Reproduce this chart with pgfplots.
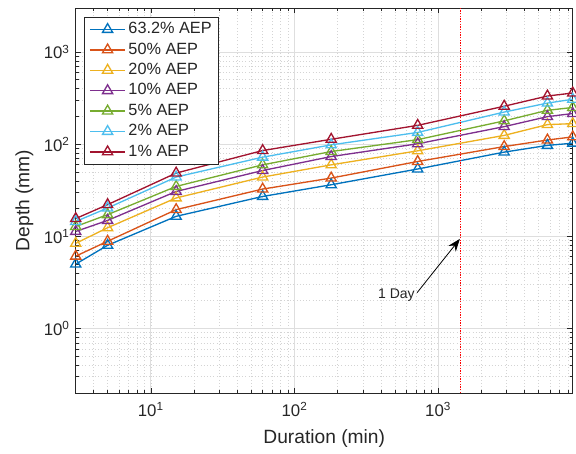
\documentclass[border=0pt]{standalone}
\usepackage{pgfplots}
\pgfplotsset{compat=1.18}
\usepackage{fontspec}
\setmainfont{Liberation Sans}
\usetikzlibrary{arrows.meta}
\definecolor{mblue}{rgb}{0,0.447,0.741}
\definecolor{morange}{rgb}{0.85,0.325,0.098}
\definecolor{myellow}{rgb}{0.929,0.694,0.125}
\definecolor{mpurple}{rgb}{0.494,0.184,0.556}
\definecolor{mgreen}{rgb}{0.466,0.674,0.188}
\definecolor{mcyan}{rgb}{0.301,0.745,0.933}
\definecolor{mred}{rgb}{0.635,0.078,0.184}
\definecolor{axgray}{rgb}{0.15,0.15,0.15}
\begin{document}
\begin{tikzpicture}
\path[use as bounding box] (-56.8pt,-45.75pt) rectangle (375.2pt,294.75pt);
\begin{axis}[
  at={(0,0)}, anchor=south west,
  scale only axis, width=372.75pt, height=288.75pt,
  xmode=log, ymode=log,
  xmin=3, xmax=8640, ymin=0.2, ymax=3000,
  /pgf/number format/assume math mode=true,
  log number format basis/.code 2 args={#1\textsuperscript{\pgfmathprintnumber{#2}}},
  xtick pos=both, ytick pos=both, tick align=inside,
  major tick length=4pt, minor tick length=2.2pt,
  grid=both,
  major grid style={black!13, line width=0.6pt},
  minor grid style={black!17, dotted, line width=0.5pt},
  axis line style={axgray, line width=0.6pt},
  every tick/.style={axgray, line width=0.5pt},
  tick label style={font=\fontsize{12.6}{14}\selectfont, text=axgray},
  xticklabel style={yshift=-3.5pt},
  yticklabel style={xshift=-1pt},
  label style={font=\fontsize{14.4}{16}\selectfont, text=axgray},
  xlabel={Duration (min)},
  xlabel style={yshift=-3pt},
  ylabel={Depth (mm)},
  ylabel style={yshift=1pt},
  every axis plot/.append style={line width=1pt, mark=triangle, mark size=4.4pt, mark options={solid}},
  legend cell align=left,
  legend style={at={(0.0167,0.977)}, anchor=north west, draw=axgray, line width=0.6pt, fill=white,
    font=\fontsize{12.2}{14}\selectfont, text=axgray, inner xsep=3.5pt, inner ysep=1.5pt,
    nodes={inner sep=1.8pt, text height=9pt, text depth=2.7pt}},
  legend image code/.code={\draw[mark repeat=2, mark phase=2] plot coordinates {(0cm,0cm) (0.47cm,0cm) (0.94cm,0cm)};},
]
\addplot[mblue] coordinates {(3,5.0) (5,8.0) (15,16.5) (60,27.1) (180,36.3) (720,53.8) (2880,82) (5760,97) (8640,102.5)};
\addlegendentry{63.2\% AEP}
\addplot[morange] coordinates {(3,6.1) (5,8.85) (15,19.5) (60,32.6) (180,42.9) (720,64.9) (2880,94.2) (5760,111) (8640,120)};
\addlegendentry{50\% AEP}
\addplot[myellow] coordinates {(3,8.4) (5,12.4) (15,26.1) (60,44) (180,59.7) (720,84.7) (2880,124.5) (5760,163) (8640,167)};
\addlegendentry{20\% AEP}
\addplot[mpurple] coordinates {(3,11.3) (5,14.9) (15,30.7) (60,51.8) (180,73.4) (720,101) (2880,155) (5760,199) (8640,215)};
\addlegendentry{10\% AEP}
\addplot[mgreen] coordinates {(3,12.8) (5,17.2) (15,34.8) (60,59.7) (180,83.2) (720,112) (2880,179) (5760,233) (8640,250)};
\addlegendentry{5\% AEP}
\addplot[mcyan] coordinates {(3,14.5) (5,20.3) (15,44) (60,72.3) (180,98.3) (720,134) (2880,223) (5760,279) (8640,307)};
\addlegendentry{2\% AEP}
\addplot[mred] coordinates {(3,15.6) (5,22.1) (15,48.6) (60,85.3) (180,113) (720,160) (2880,258) (5760,333) (8640,359)};
\addlegendentry{1\% AEP}
\addplot[red, densely dotted, line width=0.8pt, mark=none, forget plot] coordinates {(1440,0.2) (1440,3000)};
\draw[-{Stealth[length=9.5pt,width=7pt]}, line width=0.6pt, black] (axis cs:713,2.45) -- (axis cs:1417,9.4);
\node[font=\fontsize{10.5}{12}\selectfont, text=axgray] at (axis cs:512,2.28) {1 Day};
\end{axis}
\end{tikzpicture}
\end{document}
